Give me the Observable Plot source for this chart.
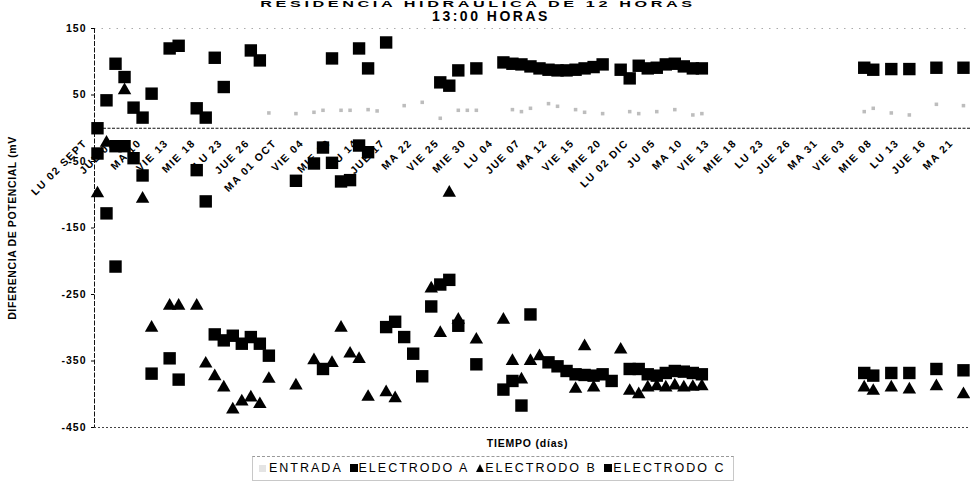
<!DOCTYPE html>
<html><head><meta charset="utf-8">
<script src="https://cdn.jsdelivr.net/npm/d3@7"></script>
<script src="https://cdn.jsdelivr.net/npm/@observablehq/plot@0.6"></script>
<style>
html,body{margin:0;padding:0;background:#fff;}
body{width:970px;height:484px;overflow:hidden;position:relative;font-family:"Liberation Sans",Arial,sans-serif;color:#000;}
.t1{position:absolute;left:0;width:956px;top:0px;text-align:center;font-weight:bold;font-size:9px;line-height:9px;letter-spacing:2px;white-space:nowrap;transform:scaleX(1.8);transform-origin:478px 0;}
.t2{position:absolute;left:0;width:982px;top:10px;text-align:center;font-weight:bold;font-size:14px;line-height:13px;letter-spacing:2.5px;white-space:nowrap;}
#chart{position:absolute;left:0;top:24px;}
.xt{position:absolute;left:0;width:1055px;top:437px;text-align:center;font-weight:bold;font-size:10.5px;line-height:12px;letter-spacing:0.8px;}
.lg{position:absolute;left:252px;top:456px;width:482px;height:25px;border:1px solid #c8c8c8;border-top:1px dashed #999;box-sizing:border-box;font-size:12.5px;line-height:23px;letter-spacing:2px;white-space:nowrap;padding-left:6px;}
.sq{display:inline-block;width:8px;height:8px;background:#000;margin:0 1px 0 2px;}
.sq0{display:inline-block;width:7px;height:7px;background:#e4e4e4;margin:0 3px 0 0;}
.tri{display:inline-block;width:0;height:0;border-left:4.5px solid transparent;border-right:4.5px solid transparent;border-bottom:8px solid #000;margin:0 1px 0 2px;}
</style>
</head><body>
<div class="t1">RESIDENCIA HIDRAULICA DE 12 HORAS</div>
<div class="t2">13:00 HORAS</div>
<div id="chart"></div>
<div class="xt">TIEMPO (días)</div>
<div class="lg"><span class="sq0"></span>ENTRADA <span class="sq"></span>ELECTRODO A <span class="tri"></span>ELECTRODO B <span class="sq"></span>ELECTRODO C</div>
<script>
// Category (working-day index) tick labels
const tickDays = [0,3,6,9,12,15,18,21,24,27,30,33,36,39,42,45,48,51,54,57,60,63,66,69,72,75,78,81,84,87,90,93,96];
const tickLabels = ["LU 02 SEPT","JUE 05","MA 10","VIE 13","MIE 18","LU 23","JUE 26","MA 01 OCT","VIE 04","MIE 09","LU 14","JUE 17","MA 22","VIE 25","MIE 30","LU 04","JUE 07","MA 12","VIE 15","MIE 20","LU 02 DIC","JU 05","MA 10","VIE 13","MIE 18","LU 23","JUE 26","MA 31","VIE 03","MIE 08","LU 13","JUE 16","MA 21"];
const yTicks = [150,50,-50,-150,-250,-350,-450];

// ENTRADA
const entradaDay = [19,22,24,25,27,28,30,31,34,36,38,40,41,42,46,47,48,50,51,53,54,56,59,60,62,64,66,67,85,86,88,90,93,96];
const entradaVal = [23,22,24,27,27,27,28,26,34,39,15,27,27,27,28,25,30,37,33,28,24,22,25,22,25,28,20,22,25,30,23,20,36,34];
// ELECTRODO A
const aDay = [0,1,2,3,4,5,6,8,9,11,12,13,14,17,18,26,29,30,32,38,39,40,42,45,46,47,48,49,50,51,52,53,54,55,56,58,59,60,61,62,63,64,65,66,67,85,86,88,90,93,96];
const aVal = [0,42,97,77,31,16,52,120,124,30,16,106,62,117,102,105,120,90,129,69,64,87,90,99,97,96,93,90,88,87,87,88,90,92,96,88,75,94,90,91,96,97,93,90,90,91,88,89,89,91,91];
// ELECTRODO B
const bDay = [0,1,3,5,6,8,9,11,12,13,14,15,16,17,18,19,22,24,26,27,28,29,30,32,33,37,38,39,40,42,45,46,47,48,49,53,54,55,58,59,60,61,62,63,64,65,66,67,85,86,88,90,93,96];
const bVal = [-98,-22,57,-106,-300,-267,-267,-267,-354,-373,-390,-423,-411,-405,-415,-377,-387,-349,-353,-300,-339,-347,-404,-397,-406,-241,-308,-97,-288,-318,-288,-350,-378,-350,-343,-392,-328,-390,-333,-395,-400,-390,-388,-390,-387,-390,-389,-388,-390,-395,-390,-393,-388,-400];
// ELECTRODO C
const cDay = [0,1,2,2,3,4,5,6,8,9,11,12,13,14,15,16,17,18,19,22,24,25,25,26,27,28,29,30,32,33,34,35,36,37,38,39,40,42,45,46,47,48,50,51,52,53,54,55,56,57,59,60,61,62,63,64,65,66,67,85,86,88,90,93,96];
const cVal = [-38,-128,-27,-208,-27,-45,-71,-369,-346,-378,-63,-110,-310,-319,-312,-324,-314,-324,-342,-79,-53,-29,-362,-52,-80,-78,-26,-36,-299,-291,-314,-339,-373,-268,-235,-228,-297,-355,-393,-380,-417,-280,-352,-358,-365,-370,-371,-372,-370,-380,-362,-362,-370,-372,-368,-365,-366,-368,-370,-368,-372,-368,-368,-362,-364];

const pairs = (days, vals) => days.map((d, i) => ({day: d, v: vals[i]}));
const entrada = pairs(entradaDay, entradaVal);
const elA = pairs(aDay, aVal);
const elB = pairs(bDay, bVal);
const elC = pairs(cDay, cVal);
const ticks = tickDays.map((d, i) => ({day: d, label: tickLabels[i]}));

const xDomain = [-0.33, 96.78];
const yDomain = [-450, 150];

const chart = Plot.plot({
  width: 970,
  height: 414,
  marginTop: 4,
  marginBottom: 11,
  marginLeft: 94,
  marginRight: 0,
  style: {fontFamily: "'Liberation Sans', Arial, sans-serif", fontSize: "10.5px", fontWeight: "bold", background: "#fff", color: "#000", overflow: "visible"},
  x: {domain: xDomain, axis: null},
  y: {domain: yDomain},
  marks: [
    Plot.ruleY([yDomain[1]], {stroke: "#aaa", strokeDasharray: "1.5,6"}),
    Plot.ruleY([yDomain[0]], {stroke: "#444", strokeDasharray: "2,2"}),
    Plot.ruleY([0], {stroke: "#111", strokeWidth: 1.2, strokeDasharray: "3,1.5"}),
    Plot.ruleX([xDomain[0]], {stroke: "#111", strokeDasharray: "5,1.5"}),
    Plot.axisY({ticks: yTicks, tickFormat: d => String(d), tickSize: 3, tickPadding: 5, label: null, fontSize: 10.5}),
    Plot.text([ "DIFERENCIA DE POTENCIAL (mV" ], {frameAnchor: "left", textAnchor: "middle", dx: -82, rotate: -90, fontSize: 10.5}),
    Plot.text(ticks, {x: "day", y: () => 0, text: "label", rotate: -45, textAnchor: "end", dx: -12, dy: 13, fontSize: 10.5}),
    Plot.dot(entrada, {x: "day", y: "v", symbol: "square", r: 2, fill: "#bdbdbd"}),
    Plot.dot(elA, {x: "day", y: "v", symbol: "square", r: 7, fill: "#000"}),
    Plot.dot(elB, {x: "day", y: "v", symbol: "triangle", r: 5, fill: "#000"}),
    Plot.dot(elC, {x: "day", y: "v", symbol: "square", r: 7, fill: "#000"})
  ]
});
document.getElementById("chart").append(chart);
const textGroups = chart.querySelectorAll('g[aria-label="text"]');
if (textGroups[0]) textGroups[0].querySelectorAll("text").forEach(t => t.style.letterSpacing = "0.6px");
if (textGroups[1]) textGroups[1].querySelectorAll("text").forEach(t => t.style.letterSpacing = "1.5px");
chart.querySelectorAll('g[aria-label="y-axis tick label"] text').forEach(t => t.style.letterSpacing = "1px");
</script>
</body></html>
